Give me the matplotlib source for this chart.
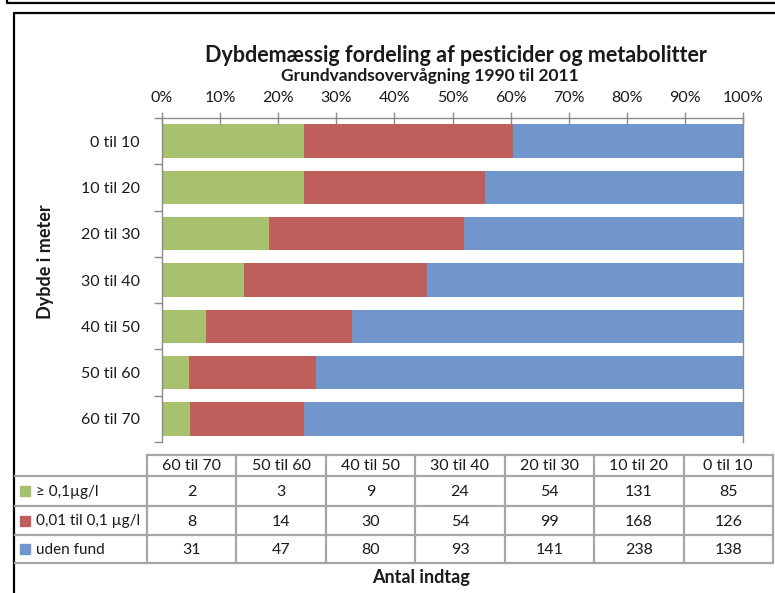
import matplotlib
matplotlib.use("Agg")
import matplotlib.pyplot as plt
import numpy as np

plt.rcParams['font.family'] = ['Lato', 'DejaVu Sans']
plt.rcParams['text.color'] = '#1a1a1a'
plt.rcParams['xtick.color'] = '#1a1a1a'
plt.rcParams['ytick.color'] = '#1a1a1a'

categories = ["0 til 10", "10 til 20", "20 til 30", "30 til 40", "40 til 50", "50 til 60", "60 til 70"]
series_names = ["\u2265 0,1\u00b5g/l", "0,01 til 0,1 \u00b5g/l", "uden fund"]
high = [85, 131, 54, 24, 9, 3, 2]
mid = [126, 168, 99, 54, 30, 14, 8]
none_found = [138, 238, 141, 93, 80, 47, 31]
colors = ["#a8c16f", "#bf5f5b", "#7196cc"]
xticks = [0, 10, 20, 30, 40, 50, 60, 70, 80, 90, 100]

W, H = 775, 593
fig = plt.figure(figsize=(W / 100, H / 100), dpi=100)

FS = 11.5

# main axes (pixel geometry)
ax_l, ax_r, ax_t, ax_b = 162, 743, 118, 442
ax = fig.add_axes([ax_l / W, 1 - ax_b / H, (ax_r - ax_l) / W, (ax_b - ax_t) / H])

data = np.array([high, mid, none_found], dtype=float)
pct = data / data.sum(axis=0) * 100
y = np.arange(len(categories))
left = np.zeros(len(categories))
for i in range(3):
    ax.barh(y, pct[i], left=left, height=0.72, color=colors[i], edgecolor='none')
    left += pct[i]

ax.set_xlim(0, 100)
ax.set_ylim(len(categories) - 0.5, -0.5)
ax.xaxis.tick_top()
ax.set_xticks(xticks)
ax.set_xticklabels([f"{v}%" for v in xticks], fontsize=FS)
ax.tick_params(axis='x', direction='inout', length=9, color='#8c8c8c', width=1, pad=5)
ax.set_yticks(y)
ax.set_yticklabels(categories, fontsize=FS)
ax.set_yticks(np.arange(len(categories) + 1) - 0.5, minor=True)
ax.tick_params(axis='y', which='major', length=0, pad=16)
ax.tick_params(axis='y', which='minor', length=6, color='#8c8c8c', width=1)
for s in ['right', 'bottom']:
    ax.spines[s].set_visible(False)
for s in ['top', 'left']:
    ax.spines[s].set_color('#8c8c8c')
    ax.spines[s].set_linewidth(1)
ax.axvline(100, color='#8c8c8c', lw=1, clip_on=False)

# overlay axes in pixel coordinates
ov = fig.add_axes([0, 0, 1, 1])
ov.set_xlim(0, W)
ov.set_ylim(H, 0)
ov.axis('off')

# borders
ov.plot([7, 7, W], [0, 3, 3], color='black', lw=1.6, solid_capstyle='butt')
ov.plot([14, 14, W], [H, 13, 13], color='black', lw=1.6, solid_capstyle='butt')

# titles
ov.text(456, 56, "Dybdemæssig fordeling af pesticider og metabolitter",
        ha='center', va='center', fontsize=15.5, fontweight='bold')
ov.text(430, 76, "Grundvandsovervågning 1990 til 2011",
        ha='center', va='center', fontsize=12.5, fontweight='bold')
ov.text(45, 262, "Dybde i meter", rotation=90, ha='center', va='center',
        fontsize=13, fontweight='bold')

# table
gc = '#a6a6a6'
col_l, col_r = 147, 773
ncol = len(categories)
col_edges = np.linspace(col_l, col_r, ncol + 1)
row_edges = [455, 476, 506, 535, 563]
tab_left = 15
ov.plot([col_l, col_r], [row_edges[0]] * 2, color=gc, lw=1.6)
for ry in row_edges[1:]:
    ov.plot([tab_left, col_r], [ry, ry], color=gc, lw=1.6)
for cx in col_edges:
    ov.plot([cx, cx], [row_edges[0], row_edges[-1]], color=gc, lw=1.6)

table_cats = categories[::-1]
table_rows = [high[::-1], mid[::-1], none_found[::-1]]
for j, c in enumerate(table_cats):
    xc = (col_edges[j] + col_edges[j + 1]) / 2
    ov.text(xc, (row_edges[0] + row_edges[1]) / 2 + 1, c, ha='center', va='center', fontsize=FS)
    for i in range(3):
        yc = (row_edges[i + 1] + row_edges[i + 2]) / 2 + 1
        ov.text(xc, yc, str(table_rows[i][j]), ha='center', va='center', fontsize=FS)

for i in range(3):
    yc = (row_edges[i + 1] + row_edges[i + 2]) / 2
    ov.add_patch(plt.Rectangle((20, yc - 5), 10, 10, color=colors[i]))
    ov.text(36, yc + 1, series_names[i], ha='left', va='center', fontsize=FS - 0.5)

ov.text(421, 578, "Antal indtag", ha='center', va='center', fontsize=13, fontweight='bold')

fig.savefig("out.png", dpi=100)
